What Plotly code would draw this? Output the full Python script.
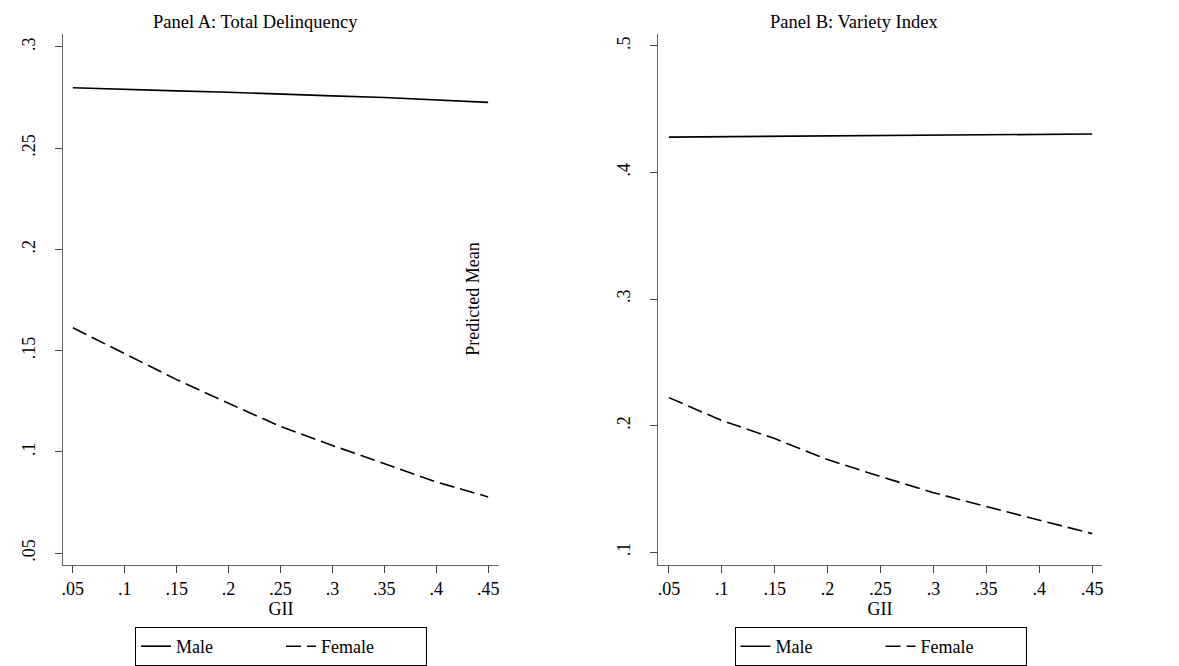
import plotly.graph_objects as go

gii = [0.05, 0.10, 0.15, 0.20, 0.25, 0.30, 0.35, 0.40, 0.45]

# Panel A: Total Delinquency
male_a = [0.2798, 0.2792, 0.2783, 0.2776, 0.2766, 0.2758, 0.2750, 0.2738, 0.2726]
female_a = [0.1613, 0.1485, 0.1357, 0.1240, 0.1126, 0.1032, 0.0941, 0.0852, 0.0778]

# Panel B: Variety Index
male_b = [0.4280, 0.4283, 0.4284, 0.4285, 0.4288, 0.4290, 0.4295, 0.4298, 0.4304]
female_b = [0.2221, 0.2040, 0.1897, 0.1731, 0.1597, 0.1470, 0.1360, 0.1250, 0.1146]

x_ticks = [0.05, 0.10, 0.15, 0.20, 0.25, 0.30, 0.35, 0.40, 0.45]
x_ticklabels = [".05", ".1", ".15", ".2", ".25", ".3", ".35", ".4", ".45"]
ya_ticks = [0.05, 0.10, 0.15, 0.20, 0.25, 0.30]
ya_ticklabels = [".05", ".1", ".15", ".2", ".25", ".3"]
yb_ticks = [0.1, 0.2, 0.3, 0.4, 0.5]
yb_ticklabels = [".1", ".2", ".3", ".4", ".5"]

FONT = "Liberation Serif, Times New Roman, serif"
W, H = 1179, 666

fig = go.Figure()
fig.add_trace(go.Scatter(x=gii, y=male_a, mode="lines", name="Male",
                         line=dict(color="black", width=1.6), xaxis="x", yaxis="y", legend="legend"))
fig.add_trace(go.Scatter(x=gii, y=female_a, mode="lines", name="Female",
                         line=dict(color="black", width=1.6, dash="15px,6px"), xaxis="x", yaxis="y", legend="legend"))
fig.add_trace(go.Scatter(x=gii, y=male_b, mode="lines", name="Male",
                         line=dict(color="black", width=1.6), xaxis="x2", yaxis="y2", legend="legend2"))
fig.add_trace(go.Scatter(x=gii, y=female_b, mode="lines", name="Female",
                         line=dict(color="black", width=1.6, dash="15px,6px"), xaxis="x2", yaxis="y2", legend="legend2"))

axis_common = dict(showgrid=False, zeroline=False, showline=True, linecolor="#666666", linewidth=1.2,
                   ticks="outside", ticklen=7, tickcolor="#444444", tickwidth=1.2,
                   tickfont=dict(family=FONT, size=18, color="black"))

y0 = 1 - 566 / H
y1 = 1 - 34 / H

fig.update_layout(
    width=W, height=H,
    margin=dict(l=0, r=0, t=0, b=0),
    paper_bgcolor="white", plot_bgcolor="white",
    font=dict(family=FONT, size=18, color="black"),
    xaxis=dict(domain=[62 / W, 499 / W], range=[0.0404, 0.4606], tickvals=x_ticks, ticktext=x_ticklabels,
               title=dict(text="GII", standoff=3, font=dict(family=FONT, size=18)), anchor="y", **axis_common),
    yaxis=dict(domain=[y0, y1], range=[0.0441, 0.3064], tickvals=ya_ticks, ticktext=ya_ticklabels,
               tickangle=-90, anchor="x", ticklabelstandoff=13, **axis_common),
    xaxis2=dict(domain=[658 / W, 1103 / W], range=[0.0396, 0.4594], tickvals=x_ticks, ticktext=x_ticklabels,
                title=dict(text="GII", standoff=3, font=dict(family=FONT, size=18)), anchor="y2", **axis_common),
    yaxis2=dict(domain=[y0, y1], range=[0.0897, 0.5095], tickvals=yb_ticks, ticktext=yb_ticklabels,
                tickangle=-90, anchor="x2", ticklabelstandoff=13, **axis_common),
    legend=dict(orientation="h", x=280.5 / W, xanchor="center", y=1 - 628 / H, yanchor="top",
                bordercolor="black", borderwidth=1, bgcolor="white", entrywidth=100,
                font=dict(family=FONT, size=18)),
    legend2=dict(orientation="h", x=881 / W, xanchor="center", y=1 - 628 / H, yanchor="top",
                 bordercolor="black", borderwidth=1, bgcolor="white", entrywidth=100,
                 font=dict(family=FONT, size=18)),
    annotations=[
        dict(text="Panel A: Total Delinquency", x=255 / W, y=1 - 22 / H, xref="paper", yref="paper",
             showarrow=False, font=dict(family=FONT, size=18.5), xanchor="center", yanchor="middle"),
        dict(text="Panel B: Variety Index", x=854 / W, y=1 - 22 / H, xref="paper", yref="paper",
             showarrow=False, font=dict(family=FONT, size=18.5), xanchor="center", yanchor="middle"),
        dict(text="Predicted Mean", x=472 / W, y=1 - 300 / H, xref="paper", yref="paper",
             showarrow=False, textangle=-90, font=dict(family=FONT, size=18), xanchor="center", yanchor="middle"),
    ],
    showlegend=True,
)

fig.write_html("out.html")
